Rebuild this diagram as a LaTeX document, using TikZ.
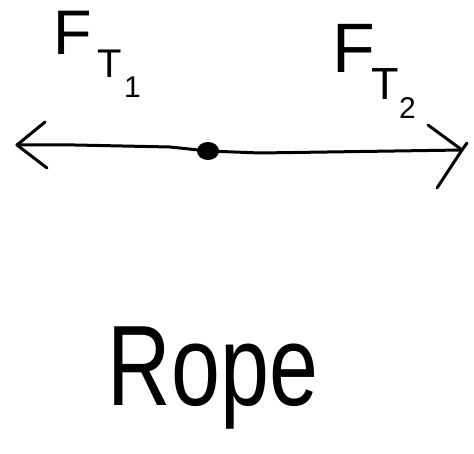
\documentclass[tikz,border=0pt]{standalone}
\usepackage{fontspec}
\setmainfont{Liberation Sans}
\begin{document}
\begin{tikzpicture}[x=1pt,y=-1pt,
  ink/.style={line width=3pt,line cap=round,line join=round,black},
  lbl/.style={inner sep=0pt,anchor=base west,text=black}]
\useasboundingbox (0,0) rectangle (474,454);
% labels
\node[lbl,font=\fontsize{63}{63}\selectfont] (f1) at (53,55) {F};
\node[lbl,font=\fontsize{40}{40}\selectfont] (t1) at (97,78) {T};
\node[lbl,font=\fontsize{30}{30}\selectfont] (s1) at (124,98) {1};
\node[lbl,font=\fontsize{70}{70}\selectfont] (f2) at (332,73) {F};
\node[lbl,font=\fontsize{45}{45}\selectfont] (t2) at (371,100) {T};
\node[lbl,font=\fontsize{30}{30}\selectfont] (s2) at (399,119) {2};
% rope
\coordinate (L) at (17,145);
\coordinate (R) at (462,150);
\coordinate (M) at (208,151);
\draw[ink] (L) -- (75,145) -- (170,147) -- (M) -- (260,153) -- (R);
\draw[ink] (45,122) -- (L) -- (47,168);
\draw[ink] (428,125) -- (R);
\draw[ink] (467,143) -- (R) -- (437,188);
\fill[black] (M) ellipse [x radius=11pt, y radius=9pt];
\node[lbl,anchor=base,font=\fontsize{88}{88}\selectfont,yscale=1.3] (rope) at (213,405) {Rope};
\end{tikzpicture}
\end{document}
